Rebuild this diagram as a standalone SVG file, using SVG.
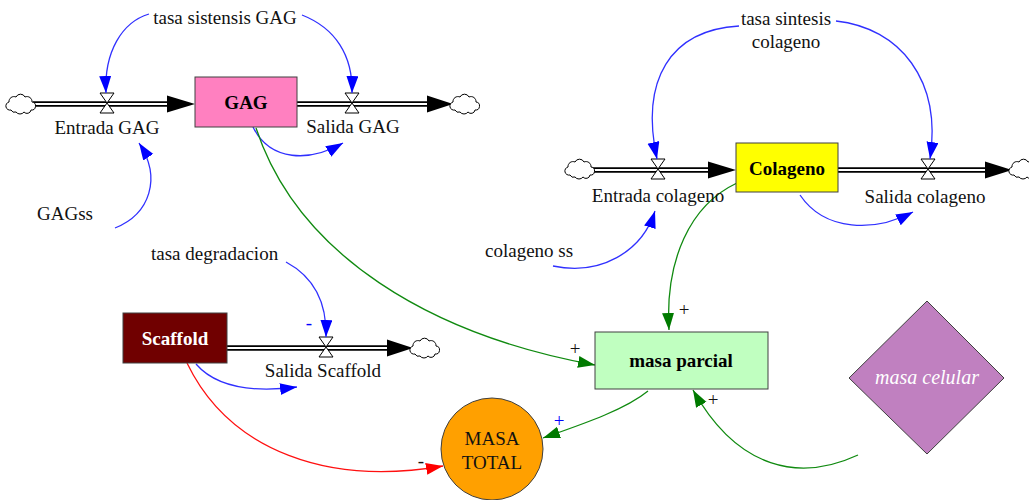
<svg xmlns="http://www.w3.org/2000/svg" width="1029" height="500" viewBox="0 0 1029 500">
<style>
.lbl{font-family:"Liberation Serif","Times New Roman",serif;font-size:19px;fill:#111}
.bold{font-family:"Liberation Serif","Times New Roman",serif;font-size:19px;font-weight:bold}
.box{stroke:#404040;stroke-width:1}
.pipeo{stroke:#000;stroke-width:5.5;fill:none}
.pipei{stroke:#fff;stroke-width:2;fill:none}
.blue{stroke:#3030ff;stroke-width:1.3;fill:none}
.green{stroke:#108a10;stroke-width:1.3;fill:none}
.red{stroke:#ff1010;stroke-width:1.3;fill:none}
.cloud{fill:#fff;stroke:#000;stroke-width:1}
.valve{fill:#fff;stroke:#000;stroke-width:1}
</style>
<defs>
<marker id="ab" markerUnits="userSpaceOnUse" markerWidth="20" markerHeight="14" refX="17" refY="6" orient="auto"><path d="M0,0 L17,6 L0,12 z" fill="#0000ff"/></marker>
<marker id="ag" markerUnits="userSpaceOnUse" markerWidth="20" markerHeight="14" refX="17" refY="6" orient="auto"><path d="M0,0 L17,6 L0,12 z" fill="#007a00"/></marker>
<marker id="ar" markerUnits="userSpaceOnUse" markerWidth="20" markerHeight="14" refX="17" refY="6" orient="auto"><path d="M0,0 L17,6 L0,12 z" fill="#ff0000"/></marker>
<path id="cl" class="cloud" d="M-10,6 a4,4 0 0 1 -2,-8 a5,5 0 0 1 7,-5 a5,5 0 0 1 9,0 a5,5 0 0 1 7,5 a4,4 0 0 1 -1,8 a4,4 0 0 1 -7,2 a5,5 0 0 1 -8,0 a4,4 0 0 1 -5,-2 z"/>
<polygon id="vl" class="valve" points="-7,-10 7,-10 -7,10 7,10"/>
</defs>

<g id="connectors">
<path class="pipeo" d="M33,104 H168 M297,104 H428 M592,170 H709 M838,170 H986 M227,348 H388"/>
<path class="pipei" d="M33,104 H168 M297,104 H428 M592,170 H709 M838,170 H986 M227,348 H388"/>
<polygon points="167,95.5 195,104 167,112.5" fill="#000"/>
<polygon points="427,95.5 453,104 427,112.5" fill="#000"/>
<polygon points="708,161.5 736,170 708,178.5" fill="#000"/>
<polygon points="985,161.5 1012,170 985,178.5" fill="#000"/>
<polygon points="387,339.5 413,348 387,356.5" fill="#000"/>
<use href="#cl" x="21" y="104"/>
<use href="#cl" x="465" y="104"/>
<use href="#cl" x="580" y="169"/>
<use href="#cl" x="1024" y="169"/>
<use href="#cl" x="425" y="348"/>
<use href="#vl" x="107" y="103"/>
<use href="#vl" x="352" y="103"/>
<use href="#vl" x="658" y="169"/>
<use href="#vl" x="928" y="169"/>
<use href="#vl" x="326" y="347"/>

<path class="blue" marker-end="url(#ab)" d="M149,14 C122,22 104,52 106,93"/>
<path class="blue" marker-end="url(#ab)" d="M302,15 C335,28 353,55 352,93"/>
<path class="blue" marker-end="url(#ab)" d="M115,228 C150,214 162,178 139,143"/>
<path class="blue" marker-end="url(#ab)" d="M253,127 C270,162 310,162 343,143"/>
<path class="blue" marker-end="url(#ab)" d="M739,26 C670,30 640,80 657,159"/>
<path class="blue" marker-end="url(#ab)" d="M836,21 C900,28 942,80 930,159"/>
<path class="blue" marker-end="url(#ab)" d="M553,266 C600,276 642,252 655,211"/>
<path class="blue" marker-end="url(#ab)" d="M800,195 C825,232 875,232 913,212"/>
<path class="blue" marker-end="url(#ab)" d="M286,262 C312,276 327,300 326,337"/>
<path class="blue" marker-end="url(#ab)" d="M196,364 C215,386 250,393 297,387"/>

<path class="green" marker-end="url(#ag)" d="M256,128 C298,255 430,335 595,365"/>
<path class="green" marker-end="url(#ag)" d="M737,183 C690,205 665,260 669,330"/>
<path class="green" marker-end="url(#ag)" d="M648,391 C625,410 580,425 543,438"/>
<path class="green" marker-end="url(#ag)" d="M858,455 C800,482 738,470 693,390"/>
<path class="red" marker-end="url(#ar)" d="M187,363 C230,452 330,486 443,466"/>

<text class="lbl" x="575" y="355" text-anchor="middle" font-size="21">+</text>
<text class="lbl" x="684" y="316" text-anchor="middle">+</text>
<text class="lbl" x="713" y="406" text-anchor="middle">+</text>
<text class="lbl" x="559" y="427" text-anchor="middle" style="fill:#0000ff">+</text>
<text class="lbl" x="309" y="329" text-anchor="middle" style="fill:#0000ff">-</text>
<text class="lbl" x="421" y="467" text-anchor="middle">-</text>
</g>

<g id="GAG">
<rect class="box" x="195" y="77" width="102" height="50" fill="#ff80c0"/>
<text class="bold" x="246" y="109" text-anchor="middle">GAG</text>
</g>
<g id="Colageno">
<rect class="box" x="736" y="143" width="102" height="49" fill="#ffff00"/>
<text class="bold" x="787" y="175" text-anchor="middle">Colageno</text>
</g>
<g id="Scaffold">
<rect class="box" x="123" y="313" width="104" height="50" fill="#700000"/>
<text class="bold" x="175" y="345" text-anchor="middle" fill="#fff">Scaffold</text>
</g>
<g id="masa-parcial">
<rect class="box" x="595" y="332" width="173" height="57" fill="#c0ffc0"/>
<text class="bold" x="681" y="367" text-anchor="middle">masa parcial</text>
</g>
<g id="masa-total">
<circle class="box" cx="492" cy="449" r="51" fill="#ffa000"/>
<text class="lbl" x="492" y="445" text-anchor="middle">MASA</text>
<text class="lbl" x="492" y="469" text-anchor="middle">TOTAL</text>
</g>
<g id="masa-celular">
<polygon class="box" points="927,301 1004,378 927,454 849,378" fill="#c080c0"/>
<text class="lbl" x="927" y="384" text-anchor="middle" style="fill:#fff;font-style:italic;font-size:20px">masa celular</text>
</g>

<g id="Entrada-GAG"><text class="lbl" x="107" y="134" text-anchor="middle">Entrada GAG</text></g>
<g id="Salida-GAG"><text class="lbl" x="353" y="133" text-anchor="middle">Salida GAG</text></g>
<g id="tasa-sistensis-GAG"><text class="lbl" x="225" y="24" text-anchor="middle">tasa sistensis GAG</text></g>
<g id="GAGss"><text class="lbl" x="37" y="220">GAGss</text></g>
<g id="tasa-degradacion"><text class="lbl" x="151" y="260">tasa degradacion</text></g>
<g id="Salida-Scaffold"><text class="lbl" x="323" y="377" text-anchor="middle">Salida Scaffold</text></g>
<g id="tasa-sintesis-colageno"><text class="lbl" x="786" y="25" text-anchor="middle">tasa sintesis</text><text class="lbl" x="786" y="48" text-anchor="middle">colageno</text></g>
<g id="Entrada-colageno"><text class="lbl" x="658" y="202" text-anchor="middle">Entrada colageno</text></g>
<g id="Salida-colageno"><text class="lbl" x="925" y="203" text-anchor="middle">Salida colageno</text></g>
<g id="colageno-ss"><text class="lbl" x="485" y="257">colageno ss</text></g>
</svg>
